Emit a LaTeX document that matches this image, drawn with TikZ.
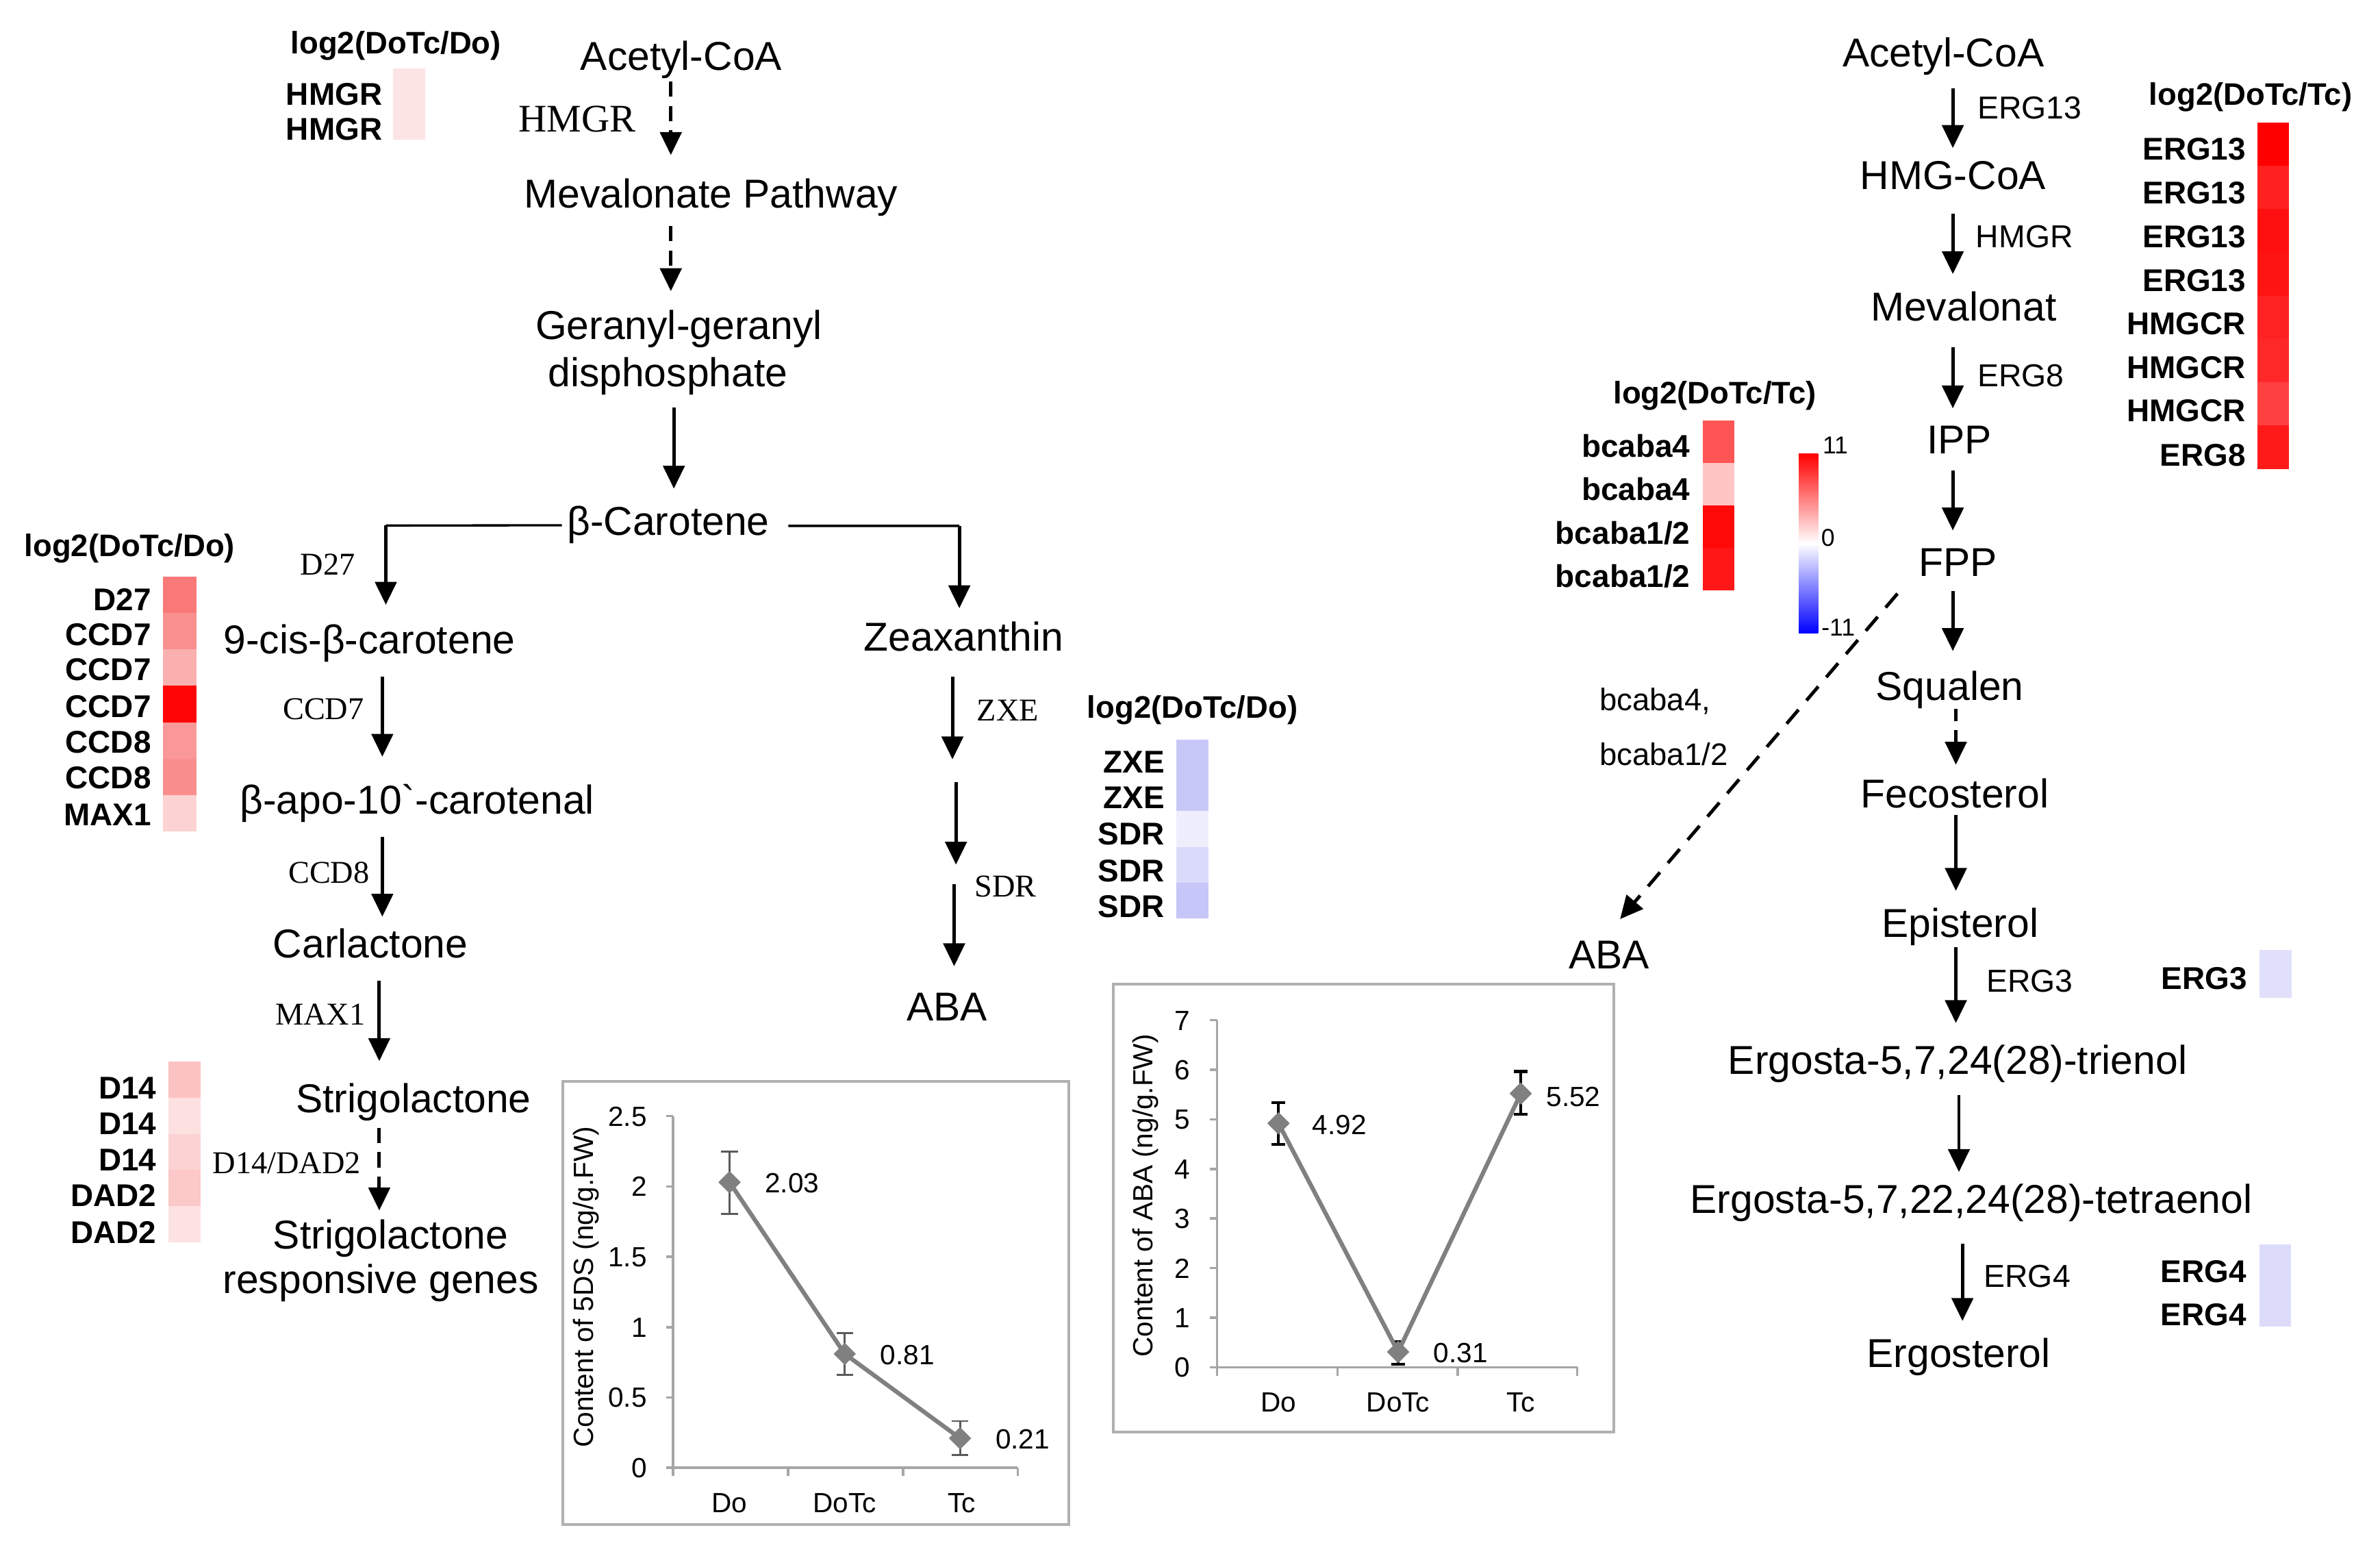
\documentclass[tikz,border=0pt]{standalone}
\usepackage{fontspec}
\setmainfont{Liberation Sans}
\newfontfamily\tmsfont{Liberation Serif}
\usetikzlibrary{arrows.meta,shapes.geometric}
\definecolor{hcTop}{HTML}{FDE4E4}
\definecolor{hcA1}{HTML}{F97878}
\definecolor{hcA2}{HTML}{FA9090}
\definecolor{hcA3}{HTML}{FBB0B0}
\definecolor{hcA4}{HTML}{FF0505}
\definecolor{hcA5}{HTML}{FA9898}
\definecolor{hcA6}{HTML}{FA8E8E}
\definecolor{hcA7}{HTML}{FDD2D2}
\definecolor{hcB1}{HTML}{FCC2C2}
\definecolor{hcB2}{HTML}{FDE0E0}
\definecolor{hcB3}{HTML}{FCD2D2}
\definecolor{hcB4}{HTML}{FCC8C8}
\definecolor{hcB5}{HTML}{FDE2E2}
\definecolor{hcZ1}{HTML}{C8C8F8}
\definecolor{hcZ2}{HTML}{C8C8F8}
\definecolor{hcZ3}{HTML}{EEEEFC}
\definecolor{hcZ4}{HTML}{DADAFA}
\definecolor{hcZ5}{HTML}{C6C6F8}
\definecolor{hcE1}{HTML}{FF0000}
\definecolor{hcE2}{HTML}{FF2020}
\definecolor{hcE3}{HTML}{FF1010}
\definecolor{hcE4}{HTML}{FF1414}
\definecolor{hcE5}{HTML}{FF2222}
\definecolor{hcE6}{HTML}{FF2828}
\definecolor{hcE7}{HTML}{FF4040}
\definecolor{hcE8}{HTML}{FF1A1A}
\definecolor{hcC1}{HTML}{FF5555}
\definecolor{hcC2}{HTML}{FFC4C4}
\definecolor{hcC3}{HTML}{FF0808}
\definecolor{hcC4}{HTML}{FF1616}
\definecolor{hcErgA}{HTML}{E0E0FA}
\definecolor{hcErgB}{HTML}{DCDCFA}
\definecolor{boxgray}{HTML}{B0B0B0}
\definecolor{axgray}{HTML}{A6A6A6}
\definecolor{dgray}{HTML}{808080}
\definecolor{errgray}{HTML}{5A5A5A}
\begin{document}
\begin{tikzpicture}[x=0.5pt,y=-0.5pt,
  met/.style={inner sep=0pt, text height=9.5pt, text depth=0pt, font=\fontsize{13.2}{15}\selectfont},
  tenz/.style={inner sep=0pt, text height=6.9pt, text depth=0pt, font=\tmsfont\fontsize{10.4}{12}\selectfont},
  renz/.style={inner sep=0pt, text height=7.5pt, text depth=0pt, anchor=west, font=\fontsize{10.4}{12}\selectfont},
  hlab/.style={inner sep=0pt, text height=7.4pt, text depth=0pt, anchor=east, font=\bfseries\fontsize{10.3}{12}\selectfont},
  htitle/.style={inner sep=0pt, text height=7.4pt, text depth=0pt, font=\bfseries\fontsize{10.2}{12}\selectfont},
  cbnum/.style={inner sep=0pt, text height=5.8pt, text depth=0pt, anchor=west, font=\fontsize{8}{9}\selectfont},
  chnum/.style={inner sep=0pt, text height=6.5pt, text depth=0pt, font=\fontsize{9.1}{10}\selectfont},
  chtitle/.style={inner sep=0pt, font=\fontsize{9.1}{10}\selectfont},
  arr/.style={line width=1.1pt, -{Triangle[width=7pt,length=7.5pt]}},
  darr/.style={arr, dash pattern=on 5pt off 3pt},
  ddarr/.style={arr, dash pattern=on 6pt off 4pt},
  hline/.style={line width=0.75pt},
  chbox/.style={draw=boxgray, line width=0.9pt},
  chaxis/.style={draw=axgray, line width=0.8pt},
  dataline/.style={draw=dgray, line width=1.4pt},
  dmark/.style={diamond, fill=dgray, inner sep=0pt, minimum width=7.5pt, minimum height=7.5pt},
  errA/.style={draw=errgray, line width=0.6pt},
  errB/.style={draw=black, line width=1pt}
]
\useasboundingbox (0,0) rectangle (1560,1010.7);

% ---------------- column coordinates ----------------
\coordinate (cA) at (439.7,0);
\coordinate (cB) at (441.7,0);
\coordinate (cL2) at (250.6,0);
\coordinate (cL3) at (248.6,0);
\coordinate (cZ) at (624.3,0);
\coordinate (cZ4) at (625.4,0);
\coordinate (cP1) at (1280,0);
\coordinate (cP2) at (1282,0);
\coordinate (cP3) at (1284,0);
\coordinate (cP4) at (1286.3,0);
\coordinate (bl) at (252.9,344.4);
\coordinate (br) at (628.8,344.6);
\coordinate (z1) at (624.3,497.6);
\coordinate (z2) at (626.6,512.5);
\coordinate (z3) at (626.6,566.6);
\coordinate (z4) at (625.4,579.5);

% ---------------- left pathway ----------------
\node[met] (acoa) at (446.5,36.6) {Acetyl-CoA};
\node[met] (meva) at (466,126.6) {Mevalonate Pathway};
\node[met] (ger) at (444.9,213) {Geranyl-geranyl};
\node[met] (ggpp) at (437.7,243.9) {disphosphate};
\node[met] (bcar) at (438,341.2) {β-Carotene};
\node[met] (cis) at (242.1,419) {9-cis-β-carotene};
\node[met] (apo) at (273.4,523.8) {β-apo-10\textasciigrave-carotenal};
\node[met] (carl) at (242.9,618.3) {Carlactone};
\node[met] (strig) at (271.1,719.7) {Strigolactone};
\node[met] (srg1) at (256.1,809) {Strigolactone};
\node[met] (srg2) at (249.6,838) {responsive genes};
\node[met] (zea) at (631.6,417.2) {Zeaxanthin};
\node[met] (aba) at (620.8,659.4) {ABA};

\node[tenz, text height=8.5pt, font=\tmsfont\fontsize{12.8}{14}\selectfont] (eHMGR) at (378.4,77.9) {HMGR};
\node[tenz] (eD27) at (214.9,369.9) {D27};
\node[tenz] (eCCD7) at (212,464.7) {CCD7};
\node[tenz] (eCCD8) at (215.6,572) {CCD8};
\node[tenz] (eMAX1) at (210,664.7) {MAX1};
\node[tenz] (eD14) at (187.9,762) {D14/DAD2};
\node[tenz] (eZXE) at (660.6,465.4) {ZXE};
\node[tenz] (eSDR) at (659.1,580.8) {SDR};

\draw[darr, shorten <=3.45pt, shorten >=7.55pt] (acoa.south -| cA) -- (meva.north -| cA);
\draw[darr, shorten <=5.8pt, shorten >=6.15pt] (meva.south -| cA) -- (ger.north -| cA);
\draw[arr, shorten <=6.7pt, shorten >=5.55pt] (ggpp.south -| cB) -- (bcar.north -| cB);
\draw[hline] ([xshift=-1.5pt,yshift=-1.5pt]bcar.west) -- (bl);
\draw[hline] ([xshift=6pt,yshift=-1.7pt]bcar.east) -- (br);
\draw[arr, shorten >=6.4pt] (bl) -- (cis.north -| bl);
\draw[arr, shorten >=4.35pt] (br) -- (zea.north -| br);
\draw[arr, shorten <=7.25pt, shorten >=9pt] (cis.south -| cL2) -- (apo.north -| cL2);
\draw[arr, shorten <=7.3pt, shorten >=3.85pt] (apo.south -| cL2) -- (carl.north -| cL2);
\draw[arr, shorten <=7.3pt, shorten >=7.25pt] (carl.south -| cL3) -- (strig.north -| cL3);
\draw[darr, shorten <=4.7pt, shorten >=2.95pt] (strig.south -| cL3) -- (srg1.north -| cL3);
\draw[arr, shorten <=8.15pt] (zea.south -| cZ) -- (z1);
\draw[arr] (z2) -- (z3);
\draw[arr, shorten >=8.15pt] (z4) -- (aba.north -| cZ4);

% ---------------- left heatmaps ----------------
\node[htitle] (tTop) at (259.5,27.9) {log2(DoTc/Do)};
\fill[hcTop] (257.7,44.7) rectangle (278.6,91.6);
\node[hlab] (lTop1) at (250.9,61.4) {HMGR};
\node[hlab] (lTop2) at (250.9,84.3) {HMGR};

\node[htitle] (tA) at (85,357.2) {log2(DoTc/Do)};
\foreach \c [count=\i from 0] in {hcA1,hcA2,hcA3,hcA4,hcA5,hcA6,hcA7}
  \fill[\c] (107,{377.7+\i*23.9}) rectangle (128.6,{377.7+\i*23.9+23.9});
\foreach \t/\yy [count=\k] in {D27/392.6,CCD7/415.6,CCD7/438.6,CCD7/462.7,CCD8/486,CCD8/509.4,MAX1/533.4}
  \node[hlab] (lA\k) at (99.4,\yy) {\t};

\foreach \c [count=\i from 0] in {hcB1,hcB2,hcB3,hcB4,hcB5}
  \fill[\c] (110.6,{695.6+\i*23.7}) rectangle (131.4,{695.6+\i*23.7+23.7});
\foreach \t/\yy [count=\k] in {D14/712.8,D14/736.2,D14/760,DAD2/783.3,DAD2/807.3}
  \node[hlab] (lB\k) at (102.9,\yy) {\t};

\node[htitle] (tZ) at (781.6,463.1) {log2(DoTc/Do)};
\foreach \c [count=\i from 0] in {hcZ1,hcZ2,hcZ3,hcZ4,hcZ5}
  \fill[\c] (770.8,{484.7+\i*23.44}) rectangle (792.3,{484.7+\i*23.44+23.44});
\foreach \t/\yy [count=\k] in {ZXE/499.2,ZXE/522.3,SDR/546,SDR/570.5,SDR/593.7}
  \node[hlab] (lZ\k) at (763.7,\yy) {\t};

% ---------------- right pathway ----------------
\node[met] (racoa) at (1273.8,34.4) {Acetyl-CoA};
\node[met] (hmgcoa) at (1280.1,114.6) {HMG-CoA};
\node[met] (mevt) at (1287.1,200.6) {Mevalonat};
\node[met] (ipp) at (1284.3,288) {IPP};
\node[met] (fpp) at (1283.3,368) {FPP};
\node[met] (squ) at (1278,449.3) {Squalen};
\node[met] (feco) at (1281.3,519.8) {Fecosterol};
\node[met] (epis) at (1284.8,604.8) {Episterol};
\node[met] (trien) at (1283.1,694.4) {Ergosta-5,7,24(28)-trienol};
\node[met] (tetra) at (1292.1,785.7) {Ergosta-5,7,22,24(28)-tetraenol};
\node[met] (ergo) at (1283.8,886.5) {Ergosterol};
\node[met] (raba) at (1054.6,625.1) {ABA};

\node[renz] (rERG13) at (1295.9,70.2) {ERG13};
\node[renz] (rHMGR) at (1294.8,154.7) {HMGR};
\node[renz] (rERG8) at (1295.9,245.8) {ERG8};
\node[renz] (rERG3) at (1301.7,642.4) {ERG3};
\node[renz] (rERG4) at (1300,836.1) {ERG4};
\node[renz, font=\fontsize{10.2}{12}\selectfont] (rbc1) at (1048.1,457.9) {bcaba4,};
\node[renz, font=\fontsize{10.2}{12}\selectfont] (rbc2) at (1048.1,494) {bcaba1/2};

\draw[arr, shorten <=6.7pt, shorten >=3.85pt] (racoa.south -| cP1) -- (hmgcoa.north -| cP1);
\draw[arr, shorten <=7.7pt, shorten >=5.55pt] (hmgcoa.south -| cP1) -- (mevt.north -| cP1);
\draw[arr, shorten <=8.45pt, shorten >=5.25pt] (mevt.south -| cP1) -- (ipp.north -| cP1);
\draw[arr, shorten <=5.25pt, shorten >=5.25pt] (ipp.south -| cP1) -- (fpp.north -| cP1);
\draw[arr, shorten <=4.75pt, shorten >=6.4pt] (fpp.south -| cP1) -- (squ.north -| cP1);
\draw[darr, dash pattern=on 4pt off 3pt, shorten <=2.6pt, shorten >=4.4pt] (squ.south -| cP2) -- (feco.north -| cP2);
\draw[arr, shorten <=2.1pt, shorten >=5.55pt] (feco.south -| cP2) -- (epis.north -| cP2);
\draw[arr, shorten <=3.05pt, shorten >=7.05pt] (epis.south -| cP2) -- (trien.north -| cP2);
\draw[arr, shorten <=6.75pt, shorten >=3.9pt] (trien.south -| cP3) -- (tetra.north -| cP3);
\draw[arr, shorten <=9.75pt, shorten >=5.5pt] (tetra.south -| cP4) -- (ergo.north -| cP4);
\draw[ddarr] ([shift={(-13.5,11.1)}]fpp.south west) -- ([shift={(7.3,-12.9)}]raba.north);

% ---------------- right heatmaps ----------------
\node[htitle] (tE) at (1475.2,61.6) {log2(DoTc/Tc)};
\foreach \c [count=\i from 0] in {hcE1,hcE2,hcE3,hcE4,hcE5,hcE6,hcE7,hcE8}
  \fill[\c] (1479.5,{80.2+\i*28.375}) rectangle (1500.5,{80.2+\i*28.375+28.375});
\foreach \t/\yy [count=\k] in {ERG13/97.4,ERG13/126,ERG13/154.7,ERG13/183.4,HMGCR/212,HMGCR/240.7,HMGCR/269,ERG8/298}
  \node[hlab] (lE\k) at (1472.4,\yy) {\t};

\node[htitle] (tC) at (1124,257.3) {log2(DoTc/Tc)};
\foreach \c [count=\i from 0] in {hcC1,hcC2,hcC3,hcC4}
  \fill[\c] (1116.2,{275.6+\i*27.8}) rectangle (1136.6,{275.6+\i*27.8+27.8});
\node[hlab] (lC1) at (1108.2,292.3) {bcaba4};
\node[hlab] (lC2) at (1108.2,320.3) {bcaba4};
\node[hlab] (lC3) at (1108.2,349) {bcaba1/2};
\node[hlab] (lC4) at (1108.2,377.6) {bcaba1/2};

\shade[top color=red, bottom color=blue, middle color=white] (1179,297.4) rectangle (1191.7,414.9);
\node[cbnum] (cb1) at (1194.3,291.7) {11};
\node[cbnum] (cb2) at (1193.3,351.9) {0};
\node[cbnum] (cb3) at (1193.5,411) {-11};

\fill[hcErgA] (1481,622.6) rectangle (1502,654.1);
\node[hlab] (lG3) at (1473.3,640.9) {ERG3};
\fill[hcErgB] (1481,815.6) rectangle (1501.5,869.2);
\node[hlab] (lG4a) at (1472.7,833) {ERG4};
\node[hlab] (lG4b) at (1472.7,861.3) {ERG4};

% ---------------- chart 1 (5DS) ----------------
\draw[chbox] (368.7,708.5) rectangle (700.7,998.8);
\draw[chaxis] (441.1,731.4) -- (441.1,961.8) -- (667.1,961.8);
\foreach \v in {0,0.5,1,1.5,2,2.5}
  \draw[chaxis] (436.5,{961.8-\v*92.16}) -- (441.1,{961.8-\v*92.16});
\foreach \l/\v [count=\k] in {0/0,0.5/0.5,1/1,1.5/1.5,2/2,2.5/2.5}
  \node[chnum, anchor=east] (ya\k) at (424.4,{961.8-\v*92.16}) {\l};
\foreach \x in {441.1,516.6,592,667.1}
  \draw[chaxis] (\x,961.8) -- (\x,967);
\node[chnum] (xa1) at (478.2,984.6) {Do};
\node[chnum] (xa2) at (553.7,984.6) {DoTc};
\node[chnum] (xa3) at (630.4,984.6) {Tc};
\node[chtitle, rotate=90] (yta) at (384.3,843.4) {Content of 5DS (ng/g.FW)};
\coordinate (p11) at (478.2,774.7);
\coordinate (p12) at (553.7,887.2);
\coordinate (p13) at (629.3,942.5);
\draw[errA] (478.2,754.7) -- (478.2,795.4) (472.7,754.7) -- (483.7,754.7) (472.7,795.4) -- (483.7,795.4);
\draw[errA] (553.7,873.6) -- (553.7,900.9) (548.2,873.6) -- (559.2,873.6) (548.2,900.9) -- (559.2,900.9);
\draw[errA] (629.3,931.3) -- (629.3,953.4) (623.8,931.3) -- (634.8,931.3) (623.8,953.4) -- (634.8,953.4);
\draw[dataline] (p11) -- (p12) -- (p13);
\node[dmark] (m11) at (p11) {};
\node[dmark] (m12) at (p12) {};
\node[dmark] (m13) at (p13) {};
\node[chnum, anchor=west] (va1) at (501.1,775.2) {2.03};
\node[chnum, anchor=west] (va2) at (576.6,887.8) {0.81};
\node[chnum, anchor=west] (va3) at (652.2,943.1) {0.21};

% ---------------- chart 2 (ABA) ----------------
\draw[chbox] (729.7,644.8) rectangle (1057.8,938.5);
\draw[chaxis] (797.8,668.5) -- (797.8,896) -- (1033.8,896);
\foreach \v in {0,...,7}
  \draw[chaxis] (793.2,{896-\v*32.5}) -- (797.8,{896-\v*32.5});
\foreach \v [count=\k] in {0,...,7}
  \node[chnum, anchor=east] (yb\k) at (780.4,{896-\v*32.5}) {\v};
\foreach \x in {797.8,876.8,955.5,1033.8}
  \draw[chaxis] (\x,896) -- (\x,901.5);
\node[chnum] (xb1) at (838,918.8) {Do};
\node[chnum] (xb2) at (916.4,918.8) {DoTc};
\node[chnum] (xb3) at (996.8,918.8) {Tc};
\node[chtitle, rotate=90] (ytb) at (751,783.5) {Content of ABA (ng/g.FW)};
\coordinate (p21) at (838,736.1);
\coordinate (p22) at (916.4,885.9);
\coordinate (p23) at (996.8,716.6);
\draw[errB] (838,722.6) -- (838,749.9) (833.6,722.6) -- (842.4,722.6) (833.6,749.9) -- (842.4,749.9);
\draw[errB] (916.4,879.2) -- (916.4,894) (912,879.2) -- (920.8,879.2) (912,894) -- (920.8,894);
\draw[errB] (996.8,702.1) -- (996.8,730.1) (992.4,702.1) -- (1001.2,702.1) (992.4,730.1) -- (1001.2,730.1);
\draw[dataline] (p21) -- (p22) -- (p23);
\node[dmark] (m21) at (p21) {};
\node[dmark] (m22) at (p22) {};
\node[dmark] (m23) at (p23) {};
\node[chnum, anchor=west] (vb1) at (859.8,737) {4.92};
\node[chnum, anchor=west] (vb2) at (939.2,886.2) {0.31};
\node[chnum, anchor=west] (vb3) at (1013.2,718.3) {5.52};
\end{tikzpicture}
\end{document}
